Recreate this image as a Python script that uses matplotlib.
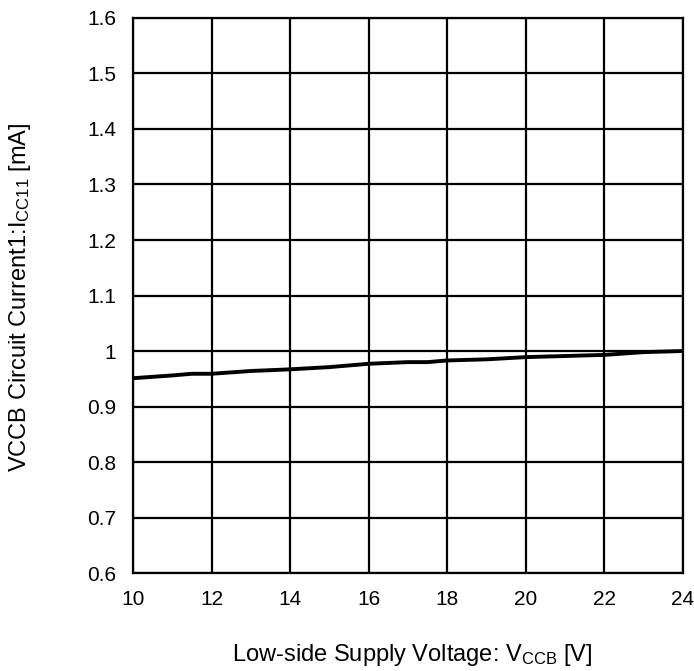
import matplotlib.pyplot as plt

plt.rcParams['font.family'] = ['Liberation Sans', 'DejaVu Sans']
plt.rcParams['mathtext.fontset'] = 'custom'
plt.rcParams['mathtext.rm'] = 'Liberation Sans'
plt.rcParams['mathtext.it'] = 'Liberation Sans'

# supply voltage [V] and circuit current [mA]
vccb = [10, 11, 11.5, 12, 13, 14, 15, 16, 17, 17.5, 18, 19, 20, 21, 22, 23, 24]
icc11 = [0.951, 0.956, 0.959, 0.959, 0.964, 0.967, 0.971, 0.977, 0.980,
         0.980, 0.983, 0.985, 0.989, 0.991, 0.993, 0.998, 1.000]

x_ticks = [10, 12, 14, 16, 18, 20, 22, 24]
y_ticks = [0.6, 0.7, 0.8, 0.9, 1.0, 1.1, 1.2, 1.3, 1.4, 1.5, 1.6]
y_tick_labels = ['0.6', '0.7', '0.8', '0.9', '1', '1.1', '1.2', '1.3',
                 '1.4', '1.5', '1.6']

fig = plt.figure(figsize=(6.94, 6.71), dpi=100)
ax = fig.add_axes([0.1916, 0.146, 0.7925, 0.8272])

ax.plot(vccb, icc11, color='black', linewidth=2.8, zorder=3)

ax.set_xlim(10, 24)
ax.set_ylim(0.6, 1.6)
ax.set_xticks(x_ticks)
ax.set_yticks(y_ticks)
ax.set_yticklabels(y_tick_labels)
ax.grid(True, color='black', linewidth=1.6)
for s in ax.spines.values():
    s.set_linewidth(1.6)
ax.tick_params(length=0, labelsize=15, pad=12)

ax.set_xlabel(r'Low-side Supply Voltage: V$_{\mathrm{CCB}}$ [V]', fontsize=17)
ax.set_ylabel(r'VCCB Circuit Current1:I$_{\mathrm{CC11}}$ [mA]', fontsize=17)
ax.xaxis.set_label_coords(0.507, -0.125)
ax.yaxis.set_label_coords(-0.181, 0.497)

plt.savefig('out.png', dpi=100)
